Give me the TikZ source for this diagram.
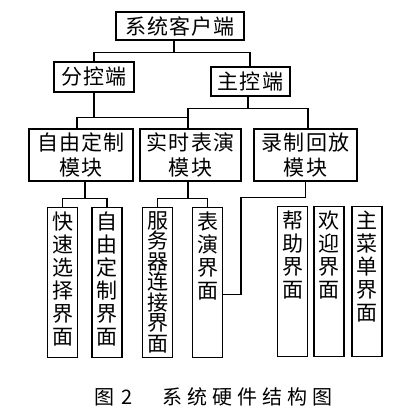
\documentclass[tikz,border=0pt]{standalone}
\usepackage{fontspec}
\setmainfont{Noto Sans CJK SC}
\newfontfamily\boxfont[LetterSpace=5]{Noto Sans CJK SC}
\newcommand{\leaftext}[2][23pt]{\parbox[t][142pt][t]{21pt}{\centering\fontsize{21pt}{#1}\selectfont #2}}
\newcommand{\capgap}{\hspace{5pt}}

\begin{document}
\begin{tikzpicture}[x=1pt,y=-1pt,line width=1.1pt]

      \useasboundingbox (0,0) rectangle (407,417);

      \begin{scope}[every node/.style={draw,rectangle,align=center,inner sep=0pt,
          font=\boxfont\fontsize{21pt}{25pt}\selectfont}]
        \node[minimum width=128pt,minimum height=28pt] (top) at (180,26)    {系统客户端};
        \node[minimum width=80pt,minimum height=30pt]  (fk)  at (94,77)     {分控端};
        \node[minimum width=79pt,minimum height=29pt]  (zk)  at (250.5,81.5) {主控端};
        \node[minimum width=104pt,minimum height=52pt] (zy)  at (81,155)    {自由定制\\模块};
        \node[minimum width=101pt,minimum height=52pt] (ss)  at (190.5,155) {实时表演\\模块};
        \node[minimum width=103pt,minimum height=52pt] (lz)  at (305.5,155) {录制回放\\模块};
      \end{scope}

      \begin{scope}[every node/.style={draw,anchor=north,inner xsep=4.5pt,inner ysep=4pt}]
        \node (l1) at (62.5,207)  {\leaftext{快\\速\\选\\择\\界\\面}};
        \node (l2) at (107,207)   {\leaftext{自\\由\\定\\制\\界\\面}};
        \node (l3) at (157.5,207) {\leaftext[20.5pt]{服\\务\\器\\连\\接\\界\\面}};
        \node (l4) at (207.5,207) {\leaftext{表\\演\\界\\面}};
        \node (l5) at (292.5,206) {\leaftext{帮\\助\\界\\面}};
        \node (l6) at (329,206)   {\leaftext{欢\\迎\\界\\面}};
        \node (l7) at (367,206)   {\leaftext{主\\菜\\单\\界\\面}};
      \end{scope}

      \node[font=\fontsize{20pt}{22pt}\selectfont] (cap) at (213.5,397)
        {图\hspace{7pt}2\hspace{30pt}系\capgap 统\capgap 硬\capgap 件\capgap 结\capgap 构\capgap 图};

      % tree lines
      \draw ([xshift=-6pt]top.south) -- ++(0,12) coordinate (t1);
      \draw (fk.north) |- (t1) -| ([xshift=-0.5pt]zk.north);

      \draw (fk.south) -- ++(0,25) coordinate (a1);
      \draw ([xshift=-4pt]zy.north) |- (a1) -| ([xshift=-2.5pt]ss.north);
      \draw ([xshift=-2.5pt]zk.south) -- ++(0,12) coordinate (a2);
      \draw ([xshift=-2.5pt]ss.north) |- (a2) -| ([xshift=2.5pt]lz.north);

      \draw ([xshift=4pt]zy.south) -- ++(0,17) coordinate (b1);
      \draw (l1.north) |- (b1) -| (l2.north);
      \draw ([xshift=-2.5pt]ss.south) -- ++(0,17) coordinate (b2);
      \draw (l3.north) |- (b2) -| (l4.north);
      \draw (lz.south) -- ++(0,16) -- ++(-64.5,0) |- ([yshift=-12pt]l4.east);

    \end{tikzpicture}
\end{document}
